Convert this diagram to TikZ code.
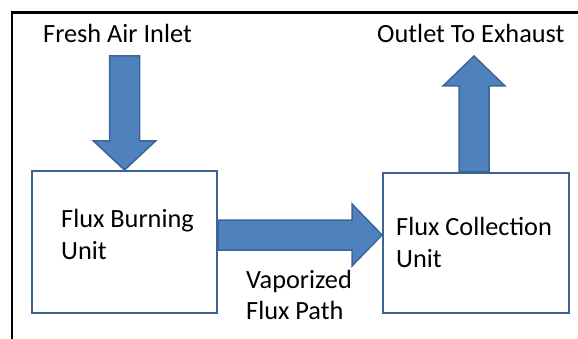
\documentclass[tikz,border=0pt]{standalone}
\usepackage{fontspec}
\setmainfont{Carlito}
\usetikzlibrary{calc}
\definecolor{arrfill}{HTML}{4F81BD}
\definecolor{arredge}{HTML}{3C6597}
\begin{document}
\begin{tikzpicture}[x=1pt,y=-1pt,
  unitbox/.style={draw=arredge,line width=2pt,fill=white,minimum width=185pt,minimum height=142pt,inner sep=0pt},
  fatarrow/.style={fill=arrfill,draw=arredge,line width=1.5pt,line join=miter},
  lbl/.style={font=\fontsize{26.3}{32}\selectfont,inner sep=0pt,anchor=base west}]
\useasboundingbox (0,0) rectangle (578,339);
\draw[line width=2.5pt] (12,339) -- (12,12.5) -- (578,12.5);
\node[unitbox] (burn) at (124.5,242) {};
\node[unitbox,minimum width=186pt,minimum height=140pt] (coll) at (476,243) {};
% labels
\node[lbl] (fresh) at (43,43) {Fresh Air Inlet};
\node[lbl] (outlet) at (377,43) {Outlet To Exhaust};
\node[lbl] (burntxt) at (61,227) {Flux Burning};
\node[lbl] (burntxt2) at (61,259) {Unit};
\node[lbl] (colltxt) at (396,235) {Flux Collection};
\node[lbl] (colltxt2) at (396,267) {Unit};
\node[lbl] (vap) at (246,288) {Vaporized};
\node[lbl] (vap2) at (246,319) {Flux Path};
% down arrow into burn
\draw[fatarrow] ($(burn.north)+(-15,-114)$) -- ($(burn.north)+(15,-114)$) -- ($(burn.north)+(15,-29)$) -- ($(burn.north)+(31,-29)$) -- (burn.north) -- ($(burn.north)+(-31,-29)$) -- ($(burn.north)+(-15,-29)$) -- cycle;
% up arrow out of coll
\draw[fatarrow] ($(coll.north)+(-2,0)$) coordinate (ub) -- ($(ub)+(-15,0)$) -- ($(ub)+(-15,-86)$) -- ($(ub)+(-31,-86)$) -- ($(ub)+(0,-116)$) -- ($(ub)+(31,-86)$) -- ($(ub)+(15,-86)$) -- ($(ub)+(15,0)$) -- cycle;
% right arrow
\draw[fatarrow] ($(burn.east)+(0,-22)$) -- ($(coll.west)+(-30,-23)$) -- ($(coll.west)+(-30,-39)$) -- ($(coll.west)+(0,-8)$) -- ($(coll.west)+(-30,23)$) -- ($(coll.west)+(-30,7)$) -- ($(burn.east)+(0,8)$) -- cycle;
\end{tikzpicture}
\end{document}
